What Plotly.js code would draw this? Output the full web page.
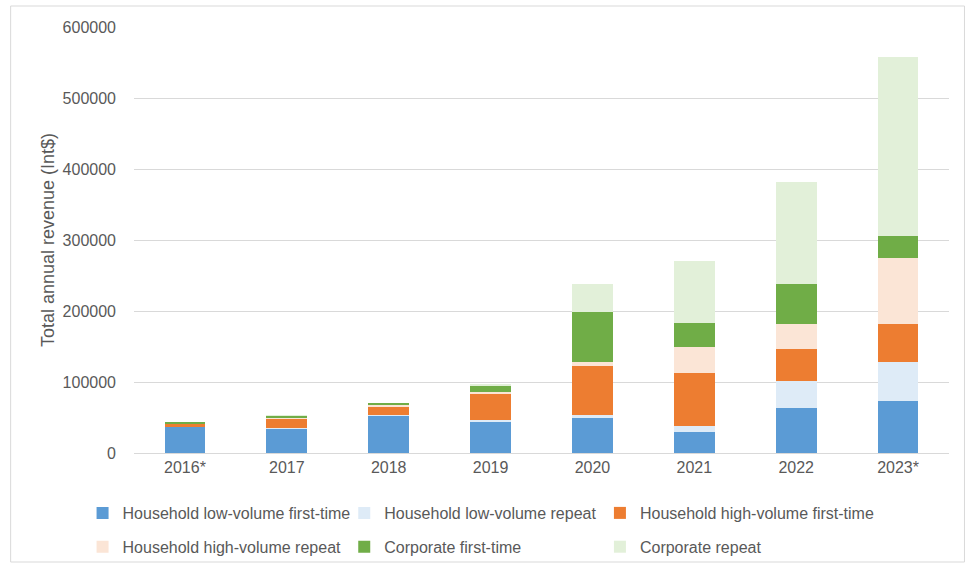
<!DOCTYPE html>
<html>
<head>
<meta charset="utf-8">
<script src="https://cdn.plot.ly/plotly-3.0.1.min.js"></script>
<style>html,body{margin:0;padding:0;background:#fff;}#chart{width:969px;height:566px;}</style>
</head>
<body>
<div id="chart"></div>
<script>
const years = ["2016*", "2017", "2018", "2019", "2020", "2021", "2022", "2023*"];
const seriesNames = ["Household low-volume first-time", "Household low-volume repeat", "Household high-volume first-time", "Household high-volume repeat", "Corporate first-time", "Corporate repeat"];
const hhLowFirst  = [36000, 34000, 52000, 44000, 50000, 30000, 63000, 73000];
const hhLowRepeat = [1000, 1500, 1500, 3000, 3000, 8000, 38000, 55000];
const hhHighFirst = [3500, 12000, 12000, 36000, 70000, 74000, 45000, 53000];
const hhHighRepeat= [1000, 1500, 2000, 3000, 5000, 37000, 35000, 94000];
const corpFirst   = [2000, 3500, 3000, 9000, 70000, 34000, 57000, 31000];
const corpRepeat  = [500, 1500, 500, 2000, 40000, 88000, 143000, 252000];
const yTicks = [0, 100000, 200000, 300000, 400000, 500000, 600000];

const seriesValues = [hhLowFirst, hhLowRepeat, hhHighFirst, hhHighRepeat, corpFirst, corpRepeat];
const colors = ["#5b9bd5", "#deebf7", "#ed7d31", "#fbe5d6", "#70ad47", "#e2f0d9"];
const legendIds = ["legend", "legend2", "legend3"];

const traces = seriesValues.map((vals, i) => ({
  type: "bar",
  name: seriesNames[i],
  x: years,
  y: vals,
  legend: legendIds[i % 3],
  legendgroup: "g" + i,
  marker: {color: colors[i], line: {width: 0}},
  hoverinfo: "x+y+name"
}));

const L = 133.5, R = 949.5, T = 27, B = 453;
const W = R - L, H = B - T;

function legendCfg(leftPx) {
  return {
    orientation: "v",
    x: (leftPx - L) / W, xanchor: "left",
    y: (B - 496) / H, yanchor: "top",
    traceorder: "grouped",
    tracegroupgap: 10,
    font: {size: 16, color: "#595959"},
    bgcolor: "rgba(0,0,0,0)",
    borderwidth: 0,
    itemclick: false
  };
}

const layout = {
  width: 969, height: 566,
  margin: {l: L, r: 969 - R, t: T, b: 566 - B, pad: 0, autoexpand: false},
  barmode: "stack",
  bargap: 0.6,
  paper_bgcolor: "#ffffff",
  plot_bgcolor: "#ffffff",
  font: {family: "Liberation Sans, Arial, sans-serif", color: "#595959", size: 16},
  showlegend: true,
  legend: legendCfg(82),
  legend2: legendCfg(344),
  legend3: legendCfg(600),
  xaxis: {
    type: "category",
    showgrid: false,
    showline: false,
    zeroline: false,
    ticks: "",
    ticklabelstandoff: 3,
    tickfont: {size: 16, color: "#595959"},
    automargin: false
  },
  yaxis: {
    range: [0, 600000],
    tickvals: yTicks,
    ticktext: yTicks.map(v => String(v)),
    showgrid: true,
    gridcolor: "#d9d9d9",
    gridwidth: 1,
    zeroline: true,
    zerolinecolor: "#d9d9d9",
    zerolinewidth: 1,
    showline: false,
    ticks: "",
    ticklabelstandoff: 17,
    tickfont: {size: 16, color: "#595959"},
    title: {text: "Total annual revenue (Int$)", font: {size: 18, color: "#595959"}, standoff: 3},
    automargin: false
  },
  shapes: [{
    type: "rect", xref: "paper", yref: "paper",
    x0: (10 - L) / W, x1: (965 - L) / W,
    y0: (B - 562) / H, y1: (B - 6) / H,
    line: {color: "#d9d9d9", width: 1},
    fillcolor: "rgba(0,0,0,0)",
    layer: "below"
  }]
};

Plotly.newPlot("chart", traces, layout, {displayModeBar: false, staticPlot: true});
</script>
</body>
</html>
